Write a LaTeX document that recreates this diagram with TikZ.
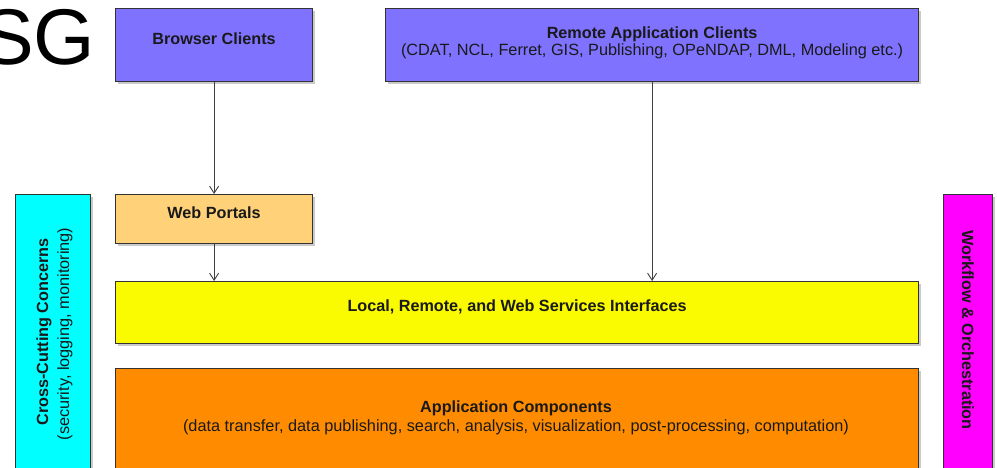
\documentclass[tikz,border=0pt]{standalone}
\usepackage{fontspec}
\setmainfont{Liberation Sans}
\usetikzlibrary{arrows.meta,shadows}

\definecolor{clientblue}{HTML}{7F72FF}
\definecolor{portalorange}{HTML}{FFD27A}
\definecolor{ifaceyellow}{HTML}{FAFA00}
\definecolor{comporange}{HTML}{FF8C00}
\definecolor{crosscyan}{HTML}{00FFFF}
\definecolor{flowmagenta}{HTML}{FF00FF}
\definecolor{edgegray}{HTML}{333333}

\tikzset{
  layer/.style={draw=edgegray, line width=1.2pt, anchor=north west, inner sep=0pt,
    drop shadow={shadow xshift=2.5pt, shadow yshift=-2.5pt, opacity=0.35, fill=black!60}},
  title/.style={font=\fontsize{16.2}{19}\selectfont\bfseries, align=center, inner sep=0pt, text=black!90},
  sub/.style={font=\fontsize{16.3}{19}\selectfont, align=center, inner sep=0pt, text=black!90},
  flow/.style={draw=black!75, line width=0.9pt, -{Straight Barb[length=7pt,width=9pt]}},
}

\begin{document}
\begin{tikzpicture}[x=1pt,y=-1pt]
  \useasboundingbox (0,0) rectangle (997,467);
  \clip (0,0) rectangle (997,467);

  % heading fragment
  \node[anchor=base west, inner sep=0pt, font=\fontsize{79}{86}\selectfont] (hd) at (-19,64) {SG};

  % client tier
  \node[layer, fill=clientblue, minimum width=197pt, minimum height=73pt] (bc) at (115,8) {};
  \node[title] (bct) at ([yshift=6pt]bc.center) {Browser Clients};

  \node[layer, fill=clientblue, minimum width=533pt, minimum height=73pt] (rc) at (385,8) {};
  \node[title] (rct) at ([yshift=11pt]rc.center) {Remote Application Clients};
  \node[sub] (rcs) at ([yshift=-6pt]rc.center) {(CDAT, NCL, Ferret, GIS, Publishing, OPeNDAP, DML, Modeling etc.)};

  % portals
  \node[layer, fill=portalorange, minimum width=197pt, minimum height=49pt] (wp) at (115,194) {};
  \node[title] (wpt) at ([yshift=6pt]wp.center) {Web Portals};

  % service interfaces
  \node[layer, fill=ifaceyellow, minimum width=803pt, minimum height=62pt] (si) at (115,281) {};
  \node[title] (sit) at ([yshift=6pt]si.center) {Local, Remote, and Web Services Interfaces};

  % application components
  \node[layer, fill=comporange, minimum width=803pt, minimum height=110pt] (ac) at (115,368) {};
  \node[title] (act) at (516,408) {Application Components};
  \node[sub] (acs) at (516,427) {(data transfer, data publishing, search, analysis, visualization, post-processing, computation)};

  % side columns
  \node[layer, fill=crosscyan, minimum width=75pt, minimum height=290pt] (cc) at (15,194) {};
  \node[title, rotate=90] (cct) at (44,332) {Cross-Cutting Concerns};
  \node[sub, rotate=90] (ccs) at (65,334) {(security, logging, monitoring)};

  \node[layer, fill=flowmagenta, minimum width=49pt, minimum height=290pt] (wo) at (943,194) {};
  \node[title, rotate=-90] (wot) at (968,330) {Workflow \& Orchestration};

  % connectors
  \draw[flow] (bc.south) -- (wp.north);
  \draw[flow] (wp.south) -- (wp.south |- si.north);
  \draw[flow] (rc.south) -- (rc.south |- si.north);
\end{tikzpicture}
\end{document}
